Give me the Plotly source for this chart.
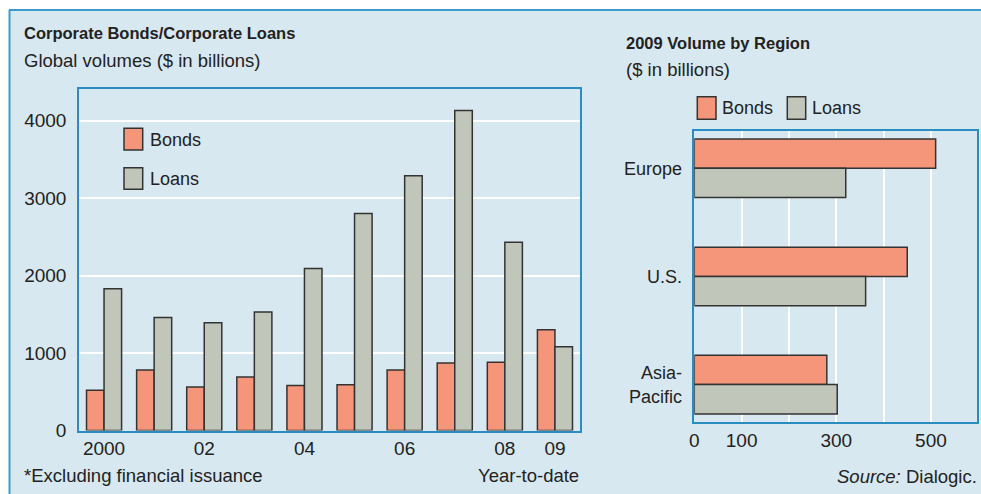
import plotly.graph_objects as go

# ---- data -------------------------------------------------------------
years = ["2000", "2001", "2002", "2003", "2004", "2005", "2006", "2007", "2008", "2009"]
bonds_global = [520, 780, 560, 690, 580, 590, 780, 870, 880, 1300]
loans_global = [1830, 1460, 1390, 1530, 2090, 2800, 3290, 4130, 2430, 1080]
year_tick_vals = ["2000", "2002", "2004", "2006", "2008", "2009"]
year_tick_text = ["2000", "02", "04", "06", "08", "09"]
global_y_ticks = [0, 1000, 2000, 3000, 4000]

regions = ["Europe", "U.S.", "Asia-<br>Pacific"]
bonds_region = [510, 450, 280]
loans_region = [320, 362, 302]
region_x_ticks = [0, 100, 200, 300, 400, 500]
region_x_text = ["0", "100", "", "300", "", "500"]

# ---- style ------------------------------------------------------------
W, H = 981, 494
BOND_COLOR = "#f5967a"
LOAN_COLOR = "#c1c6bb"
EDGE = "#333333"
PLOT_BG = "#9ccae1"
PANEL_BG = "#d8e8f1"
FRAME = "#2a8dc1"
PANEL_LINE = "#3a9ccb"
TEXT = "#222222"
FONT = "Liberation Sans, Arial, sans-serif"


def px(x):
    return x / W


def py(y):
    return 1 - y / H


fig = go.Figure()

# left chart: global volumes by year
fig.add_trace(go.Bar(x=years, y=bonds_global, name="Bonds", offset=-0.35, width=0.35,
                     marker=dict(color=BOND_COLOR, line=dict(color=EDGE, width=1.5)),
                     xaxis="x", yaxis="y", showlegend=False))
fig.add_trace(go.Bar(x=years, y=loans_global, name="Loans", offset=0.0, width=0.35,
                     marker=dict(color=LOAN_COLOR, line=dict(color=EDGE, width=1.5)),
                     xaxis="x", yaxis="y", showlegend=False))

# right chart: 2009 volume by region
fig.add_trace(go.Bar(y=regions, x=bonds_region, name="Bonds", orientation="h",
                     offset=-0.271, width=0.271,
                     marker=dict(color=BOND_COLOR, line=dict(color=EDGE, width=1.5)),
                     xaxis="x2", yaxis="y2", showlegend=False))
fig.add_trace(go.Bar(y=regions, x=loans_region, name="Loans", orientation="h",
                     offset=0.0, width=0.271,
                     marker=dict(color=LOAN_COLOR, line=dict(color=EDGE, width=1.5)),
                     xaxis="x2", yaxis="y2", showlegend=False))

tick_font = dict(family=FONT, size=19, color=TEXT)

fig.update_layout(
    width=W, height=H,
    margin=dict(l=0, r=0, t=0, b=0, pad=0, autoexpand=False),
    paper_bgcolor="white",
    plot_bgcolor=PLOT_BG,
    barmode="overlay",
    font=dict(family=FONT, size=18, color=TEXT),
    xaxis=dict(domain=[px(79), px(580)], anchor="y", type="category",
               categoryorder="array", categoryarray=years, range=[-0.5, 9.5],
               tickmode="array", tickvals=year_tick_vals, ticktext=year_tick_text,
               tickfont=tick_font, ticks="", ticklabelstandoff=0, automargin=False,
               showgrid=False, showline=True, linecolor=FRAME, linewidth=1.5,
               mirror=True, zeroline=False),
    yaxis=dict(domain=[py(430.5), py(88.5)], anchor="x", range=[0, 4415],
               tickmode="array", tickvals=global_y_ticks, automargin=False,
               tickfont=tick_font, ticks="", ticklabelstandoff=7,
               showgrid=True, gridcolor="white", gridwidth=1.5,
               showline=True, linecolor=FRAME, linewidth=1.5, mirror=True,
               zeroline=False),
    xaxis2=dict(domain=[px(694.3), px(977.3)], anchor="y2", range=[0, 598],
                tickmode="array", tickvals=region_x_ticks, ticktext=region_x_text,
                tickfont=tick_font, ticks="", ticklabelstandoff=1, automargin=False,
                showgrid=True, gridcolor="white", gridwidth=1.5,
                showline=True, linecolor=FRAME, linewidth=1.5, mirror=True,
                zeroline=False),
    yaxis2=dict(domain=[py(421.7), py(131)], anchor="x2", type="category",
                categoryorder="array", categoryarray=regions, range=[2.343, -0.345],
                tickfont=dict(family=FONT, size=18, color=TEXT), ticks="",
                ticklabelstandoff=7, showgrid=False, automargin=False,
                showline=True, linecolor=FRAME, linewidth=1.5, mirror=True,
                zeroline=False),
)

# panel background with blue top and left rules
shapes = [
    dict(type="rect", xref="paper", yref="paper", x0=px(9), x1=1.0, y0=0.0, y1=py(10),
         fillcolor=PANEL_BG, line=dict(width=0), layer="below"),
    dict(type="line", xref="paper", yref="paper", x0=px(9), x1=1.0, y0=py(10), y1=py(10),
         line=dict(color=PANEL_LINE, width=2), layer="below"),
    dict(type="line", xref="paper", yref="paper", x0=px(9.5), x1=px(9.5), y0=0.0, y1=py(10),
         line=dict(color=PANEL_LINE, width=2), layer="below"),
]


def swatch(x0, x1, y0, y1, color):
    return dict(type="rect", xref="paper", yref="paper", x0=px(x0), x1=px(x1),
                y0=py(y1), y1=py(y0), fillcolor=color,
                line=dict(color=EDGE, width=1.5), layer="above")


# legend keys
shapes += [
    swatch(124, 142.7, 128.3, 150, BOND_COLOR),
    swatch(124, 142.7, 167.7, 189.3, LOAN_COLOR),
    swatch(697.3, 716, 96.7, 119.3, BOND_COLOR),
    swatch(787.3, 805.7, 96.7, 119.3, LOAN_COLOR),
]
fig.update_layout(shapes=shapes)


def label(text, x, y, size=18.5, xanchor="left", bold=False):
    if bold:
        text = "<b>" + text + "</b>"
    return dict(text=text, xref="paper", yref="paper", x=px(x), y=py(y),
                xanchor=xanchor, yanchor="middle", showarrow=False,
                borderpad=0, borderwidth=0,
                font=dict(family=FONT, size=size, color=TEXT))


annotations = [
    label("Corporate Bonds/Corporate Loans", 24, 33, size=16.5, bold=True),
    label("Global volumes ($ in billions)", 24, 60),
    label("2009 Volume by Region", 626, 43, size=16.5, bold=True),
    label("($ in billions)", 626, 69),
    label("Bonds", 150, 139.5, size=18),
    label("Loans", 150, 178.5, size=18),
    label("Bonds", 722, 108, size=18),
    label("Loans", 812, 108, size=18),
    label("*Excluding financial issuance", 24, 475),
    label("Year-to-date", 579, 475, xanchor="right"),
    label("<i>Source:</i> Dialogic.", 977, 476, xanchor="right"),
]
fig.update_layout(annotations=annotations)

fig.write_html("out.html")
